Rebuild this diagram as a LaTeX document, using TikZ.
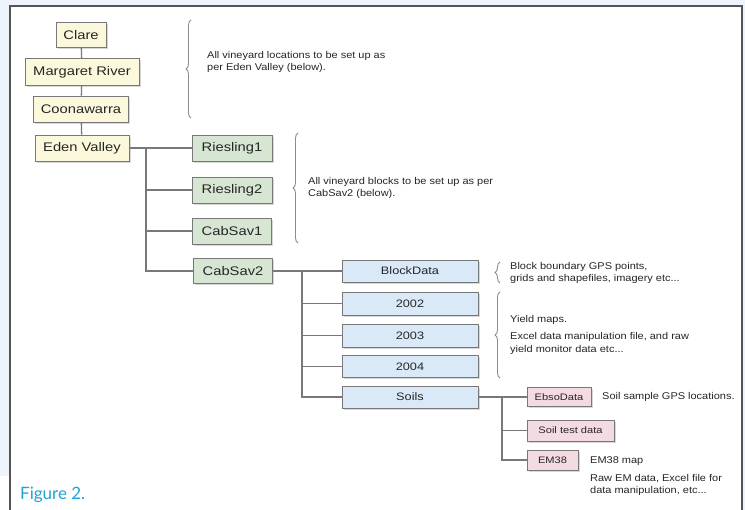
\documentclass[tikz,border=0pt]{standalone}
\usepackage{fontspec}
\setmainfont{Liberation Sans}
\newfontfamily\bxfont[FakeStretch=1.18]{Liberation Sans}
\newfontfamily\anfont[FakeStretch=1.12]{Liberation Sans}
\newfontfamily\capfont{Lato}
\usetikzlibrary{shadows,decorations.pathreplacing}
\definecolor{bgblue}{HTML}{EEF4FB}
\definecolor{framegray}{HTML}{555555}
\definecolor{beige}{HTML}{FBF8DC}
\definecolor{sage}{HTML}{D6E6D2}
\definecolor{skyb}{HTML}{DAE9F8}
\definecolor{rosep}{HTML}{F4DBE2}
\definecolor{edgegray}{HTML}{787878}
\definecolor{capblue}{HTML}{1FA2D4}
\tikzset{
  box/.style={draw=edgegray, line width=0.9pt, inner sep=0pt, text=black!85,
    font=\bxfont\fontsize{12.5}{14}\selectfont,
    drop shadow={shadow xshift=1.6pt, shadow yshift=-1.6pt, fill=black!30, opacity=0.5}},
  bbox/.style={box, fill=beige},
  gbox/.style={box, fill=sage},
  blbox/.style={box, fill=skyb, font=\bxfont\fontsize{10.8}{13}\selectfont},
  pbox/.style={box, fill=rosep, font=\bxfont\fontsize{9.4}{11}\selectfont},
  conn/.style={draw=edgegray, line width=1.3pt},
  note/.style={anchor=west, align=left, inner sep=0pt, text=black!85,
    font=\anfont\fontsize{9.8}{12.5}\selectfont},
  brc/.style={draw=black!45, line width=0.9pt, decorate,
    decoration={brace, amplitude=5pt}}
}
\begin{document}
\begin{tikzpicture}[x=1pt,y=-1pt]
\useasboundingbox (0,0) rectangle (745,510);
\fill[bgblue] (0,0) rectangle (745,510);
\fill[white] (10,6) rectangle (742,510);
\fill[white] (0,476) rectangle (10,510);
\draw[framegray, line width=2pt] (10,510) -- (10,6) -- (742,6) -- (742,510);

% locations
\node[bbox, minimum width=50pt, minimum height=25pt] (clare) at (81,35) {Clare};
\node[bbox, minimum width=114pt, minimum height=27pt] (mr) at (82,72) {Margaret River};
\node[bbox, minimum width=95pt, minimum height=26pt] (coon) at (81,109) {Coonawarra};
\node[bbox, minimum width=94pt, minimum height=26pt] (ev) at (82,148) {Eden Valley};

% blocks
\node[gbox, minimum width=80pt, minimum height=26pt] (r1) at (232,148) {Riesling1};
\node[gbox, minimum width=80pt, minimum height=26pt] (r2) at (232,190) {Riesling2};
\node[gbox, minimum width=79pt, minimum height=26pt] (cs1) at (232,231) {CabSav1};
\node[gbox, minimum width=79pt, minimum height=25pt] (cs2) at (233,271) {CabSav2};

% data
\node[blbox, minimum width=136pt, minimum height=22pt] (bd) at (410,271) {BlockData};
\node[blbox, minimum width=136pt, minimum height=23pt] (y2) at (410,303.5) {2002};
\node[blbox, minimum width=136pt, minimum height=23pt] (y3) at (410,335.5) {2003};
\node[blbox, minimum width=136pt, minimum height=22pt] (y4) at (410,366.5) {2004};
\node[blbox, minimum width=136pt, minimum height=22pt] (soils) at (410,397) {Soils};

% soils
\node[pbox, minimum width=64pt, minimum height=19pt] (ebso) at (559,397) {EbsoData};
\node[pbox, minimum width=87pt, minimum height=21pt] (stest) at (570.5,430.5) {Soil test data};
\node[pbox, minimum width=51pt, minimum height=20pt] (em) at (552.5,460) {EM38};

% connectors
\draw[conn] (clare) -- (mr);
\draw[conn] (mr) -- (coon);
\draw[conn] (coon) -- (ev);
\coordinate (t1) at (146,148);
\coordinate (t2) at (302,271);
\coordinate (t3) at (502,397);
\draw[conn] (ev.east) -- (r1.west);
\draw[conn] (t1) |- (r2.west);
\draw[conn] (t1) |- (cs1.west);
\draw[conn] (t1) |- (cs2.west);
\draw[conn] (cs2.east) -- (bd.west);
\draw[conn] (t2) |- (y2.west);
\draw[conn] (t2) |- (y3.west);
\draw[conn] (t2) |- (y4.west);
\draw[conn] (t2) |- (soils.west);
\draw[conn] (soils.east) -- (ebso.west);
\draw[conn] (t3) |- (stest.west);
\draw[conn] (t3) |- (em.west);

% braces
\coordinate (b1a) at (191,118); \coordinate (b1b) at (191,20);
\coordinate (b2a) at (298,243); \coordinate (b2b) at (298,133);
\coordinate (b3a) at (500,283); \coordinate (b3b) at (500,262);
\coordinate (b4a) at (500,378); \coordinate (b4b) at (500,292);
\draw[brc] (b1a) -- (b1b);
\draw[brc] (b2a) -- (b2b);
\draw[brc] (b3a) -- (b3b);
\draw[brc] (b4a) -- (b4b);

% notes
\node[note] (n1) at (207,62) {All vineyard locations to be set up as\\per Eden Valley (below).};
\node[note] (n2) at (308,188) {All vineyard blocks to be set up as per\\CabSav2 (below).};
\node[note] (n3) at (510,273) {Block boundary GPS points,\\grids and shapefiles, imagery etc...};
\node[note] (n4a) at (510,320) {Yield maps.};
\node[note] (n4b) at (510,343.5) {Excel data manipulation file, and raw\\yield monitor data etc...};
\node[note] (n5) at (602,397) {Soil sample GPS locations.};
\node[note] (n6a) at (590,461) {EM38 map};
\node[note] (n6b) at (590,485) {Raw EM data, Excel file for\\data manipulation, etc...};

\node[anchor=base west, inner sep=0pt, text=capblue, font=\capfont\fontsize{17}{20}\selectfont] (cap) at (20,500) {Figure 2.};
\end{tikzpicture}
\end{document}
